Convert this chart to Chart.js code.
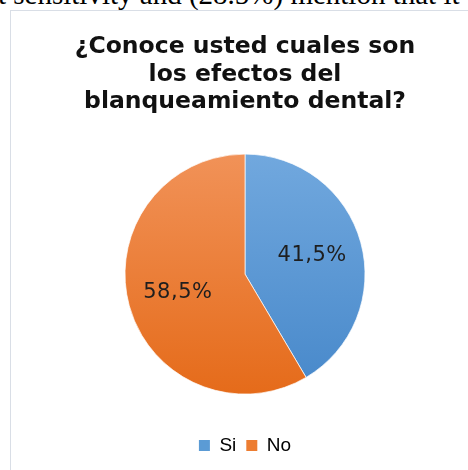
<!DOCTYPE html>
<html>
<head>
<meta charset="utf-8">
<script src="https://cdn.jsdelivr.net/npm/chart.js@4/dist/chart.umd.min.js"></script>
<style>
  html, body { margin: 0; padding: 0; background: #ffffff; width: 468px; height: 470px; overflow: hidden; }
  #doc { position: absolute; left: -2px; top: -21px; font-family: "Liberation Serif", serif; font-size: 29px; line-height: 30px; white-space: nowrap; color: #000; }
  #frame { position: absolute; left: 10px; top: 10px; width: 470px; height: 470px; border-left: 1.5px solid #d9dee6; border-top: 1.5px solid #d9dee6; }
  #wrap { position: absolute; left: 0; top: 0; width: 468px; height: 470px; }
</style>
</head>
<body>
<div id="doc">t sensitivity and (28.5%) mention that it</div>
<div id="frame"></div>
<div id="wrap"><canvas id="c"></canvas></div>
<script>
const titleLines = ['¿Conoce usted cuales son', 'los efectos del', 'blanqueamiento dental?'];
const categories = ['Si', 'No'];
const values = [41.5, 58.5];
const baseColors = ['#5b9bd5', '#ed7d31'];
const topColors = ['#71a8de', '#f19258'];
const bottomColors = ['#4788ca', '#e56b1a'];
const PIE_RADIUS = 120;

function fmt(v) { return v.toFixed(1).replace('.', ',') + '%'; }

const labelPlugin = {
  id: 'sliceLabels',
  afterDatasetsDraw(chart) {
    const ctx = chart.ctx;
    const meta = chart.getDatasetMeta(0);
    ctx.save();
    ctx.font = '21px "DejaVu Sans"';
    ctx.fillStyle = '#1e1e1e';
    ctx.textAlign = 'center';
    ctx.textBaseline = 'middle';
    if ('letterSpacing' in ctx) ctx.letterSpacing = '0.5px';
    meta.data.forEach((arc, i) => {
      const p = arc.getProps(['x', 'y', 'startAngle', 'endAngle', 'outerRadius'], true);
      const mid = (p.startAngle + p.endAngle) / 2;
      const r = p.outerRadius * 0.58;
      ctx.fillText(fmt(values[i]), p.x + Math.cos(mid) * r, p.y + Math.sin(mid) * r);
    });
    ctx.restore();
  }
};

function gradientFor(context) {
  const i = context.dataIndex;
  const chart = context.chart;
  const area = chart.chartArea;
  if (!area) return baseColors[i];
  const cy = (area.top + area.bottom) / 2;
  const g = chart.ctx.createLinearGradient(0, cy - PIE_RADIUS, 0, cy + PIE_RADIUS);
  g.addColorStop(0, topColors[i]);
  g.addColorStop(1, bottomColors[i]);
  return g;
}

new Chart(document.getElementById('c'), {
  type: 'pie',
  data: {
    labels: categories,
    datasets: [{
      data: values,
      backgroundColor: gradientFor,
      borderColor: 'rgba(255,255,255,0.7)',
      borderWidth: 1
    }]
  },
  options: {
    responsive: true,
    maintainAspectRatio: false,
    animation: false,
    radius: PIE_RADIUS,
    layout: { padding: { left: 22, right: 0, top: 0, bottom: 5 } },
    plugins: {
      title: {
        display: true,
        text: titleLines,
        color: '#111111',
        font: { family: '"DejaVu Sans"', size: 23.5, weight: 'bold', lineHeight: 1.18 },
        padding: { top: 33, bottom: 6 }
      },
      legend: {
        display: true,
        position: 'bottom',
        labels: {
          color: '#333333',
          font: { family: '"Liberation Sans"', size: 19 },
          boxWidth: 11,
          boxHeight: 11,
          padding: 10,
          generateLabels(chart) {
            return categories.map((c, i) => ({
              text: c,
              fillStyle: baseColors[i],
              strokeStyle: baseColors[i],
              lineWidth: 0,
              hidden: false,
              index: i
            }));
          }
        }
      },
      tooltip: { enabled: false }
    }
  },
  plugins: [labelPlugin]
});
</script>
</body>
</html>
